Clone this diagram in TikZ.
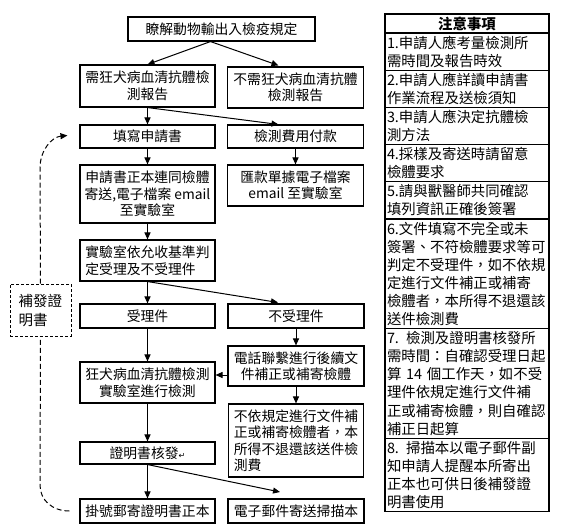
\documentclass[tikz,border=0pt]{standalone}
\usepackage{fontspec}
\setmainfont{Noto Sans CJK TC}
\newfontfamily\symfont{DejaVu Sans}
\usetikzlibrary{arrows.meta,calc}

\newcommand\boxfont{\fontsize{13.8}{16.5}\selectfont}
\newcommand\notefont{\fontsize{14.4}{18.1}\selectfont}

\tikzset{every picture/.style={line width=1pt}}
\tikzset{
  flowbox/.style={draw, rectangle, line width=1.1pt, inner sep=1pt, align=center, font=\boxfont},
  notebox/.style={draw, rectangle, line width=1.3pt, anchor=north west, outer sep=0pt, inner xsep=2pt, inner ysep=0pt, text width=160pt, align=left, font=\notefont},
  reissuebox/.style={draw, rectangle, dash pattern=on 3pt off 2pt, minimum width=61, minimum height=52, align=left, font=\fontsize{14.5}{19}\selectfont},
  arr/.style={-{Triangle[length=7pt,width=6pt]}},
  dashline/.style={dash pattern=on 5pt off 3pt},
}

\begin{document}
\begin{tikzpicture}[x=1pt,y=1pt,yscale=-1,xscale=1]
        \useasboundingbox (0,0) rectangle (563,531);
        %Shape: Rectangle
        \node [flowbox, minimum width=187, minimum height=24] (know) at (221.5,29) {瞭解動物輸出入檢疫規定};
        \node [flowbox, minimum width=135, minimum height=42] (need) at (147.5,86) {需狂犬病血清抗體檢\\測報告};
        \node [flowbox, minimum width=136, minimum height=41] (noneed) at (295.5,87.5) {不需狂犬病血清抗體\\檢測報告};
        \node [flowbox, minimum width=135, minimum height=23] (fill) at (147.5,136.5) {填寫申請書};
        \node [flowbox, minimum width=136, minimum height=23] (pay) at (295.5,136.5) {檢測費用付款};
        \node [flowbox, minimum width=135, minimum height=58] (send) at (147.5,194) {申請書正本連同檢體\\寄送,電子檔案 email\\至實驗室};
        \node [flowbox, minimum width=136, minimum height=41] (receipt) at (295.5,185.5) {匯款單據電子檔案\\email 至實驗室};
        \node [flowbox, align=left, minimum width=135, minimum height=41] (judge) at (147.5,260.5) {實驗室依允收基準判\\定受理及不受理件};
        \node [flowbox, minimum width=135, minimum height=24] (accept) at (147.5,316) {受理件};
        \node [flowbox, minimum width=136, minimum height=24] (reject) at (296,316) {不受理件};
        \node [flowbox, minimum width=136, minimum height=40] (phone) at (296,366) {電話聯繫進行後續文\\件補正或補寄檢體};
        \node [flowbox, minimum width=135, minimum height=41] (test) at (147.5,382.5) {狂犬病血清抗體檢測\\實驗室進行檢測};
        \node [flowbox, align=left, minimum width=135, minimum height=73] (nofix) at (296,440.5) {不依規定進行文件補\\正或補寄檢體者，本\\所得不退還該送件檢\\測費};
        \node [flowbox, minimum width=135, minimum height=22] (cert) at (147.5,453) {證明書核發{\symfont\fontsize{8}{8}\selectfont ↵}};
        \node [flowbox, minimum width=135, minimum height=24] (mail) at (147.5,511) {掛號郵寄證明書正本};
        \node [flowbox, minimum width=136, minimum height=24] (email) at (296,511) {電子郵件寄送掃描本};
        %Shape: Rectangle (dashed)
        \node [reissuebox] (reissue) at (40.5,310) {補發證\\明書};

        %Straight Lines
        \coordinate (split) at ($(know.south)+(-11,0)$);
        \draw [arr] (split) -- (need.north);
        \draw [arr] (split) -- ($(noneed.north)+(-17,-1)$);
        \draw [arr] (need.south) -- (fill.north);
        \draw [arr] (need.south) -- ($(pay.north)+(-17,0)$);
        \draw [arr] (fill.south) -- (send.north);
        \draw [arr] (pay.south) -- (receipt.north);
        \draw [arr] (send.south) -- (judge.north);
        \draw [arr] (judge.south) -- (accept.north);
        \draw [arr] (judge.south) -- ($(reject.north)+(-18,-1)$);
        \draw [arr] (accept.south) -- (test.north);
        \draw [arr] (reject.south) -- (phone.north);
        \draw [arr] ($(phone.west)+(0,9)$) -- ($(test.east)+(0,-7.5)$);
        \draw [arr] (phone.south) -- (nofix.north);
        \draw [arr] (test.south) -- (cert.north);
        \draw [arr] (cert.south) -- (mail.north);
        \coordinate (emtip) at (280,492);
        \draw [arr] (cert.south) -- (emtip);
        %Curve Lines
        \draw [dashline] ($(mail.west)+(-10,0)$) .. controls (52,511) and (40,500) .. (40,485) -- (reissue.south);
        \draw [dashline, arr] (reissue.north) -- (40,168) .. controls (40,150) and (52,137) .. ($(fill.west)+(-12,-1)$);

        % Text Node
        \node [notebox, font=\notefont\bfseries, align=center, minimum height=19] (note0) at (385,14) {注意事項};
        \node [notebox, minimum height=37.2] (note1) at (note0.south west) {1.申請人應考量檢測所\\需時間及報告時效};
        \node [notebox, minimum height=37.2] (note2) at (note1.south west) {2.申請人應詳讀申請書\\作業流程及送檢須知};
        \node [notebox, minimum height=37.2] (note3) at (note2.south west) {3.申請人應決定抗體檢\\測方法};
        \node [notebox, minimum height=37.2] (note4) at (note3.south west) {4.採樣及寄送時請留意\\檢體要求};
        \node [notebox, minimum height=37.2] (note5) at (note4.south west) {5.請與獸醫師共同確認\\填列資訊正確後簽署};
        \node [notebox, minimum height=109.6] (note6) at (note5.south west) {6.文件填寫不完全或未\\簽署、不符檢體要求等可\\判定不受理件，如不依規\\定進行文件補正或補寄\\檢體者，本所得不退還該\\送件檢測費};
        \node [notebox, minimum height=109.6] (note7) at (note6.south west) {7. 檢測及證明書核發所\\需時間：自確認受理日起\\算 14 個工作天，如不受\\理件依規定進行文件補\\正或補寄檢體，則自確認\\補正日起算};
        \node [notebox, minimum height=73.4] (note8) at (note7.south west) {8. 掃描本以電子郵件副\\知申請人提醒本所寄出\\正本也可供日後補發證\\明書使用};
\end{tikzpicture}
\end{document}
